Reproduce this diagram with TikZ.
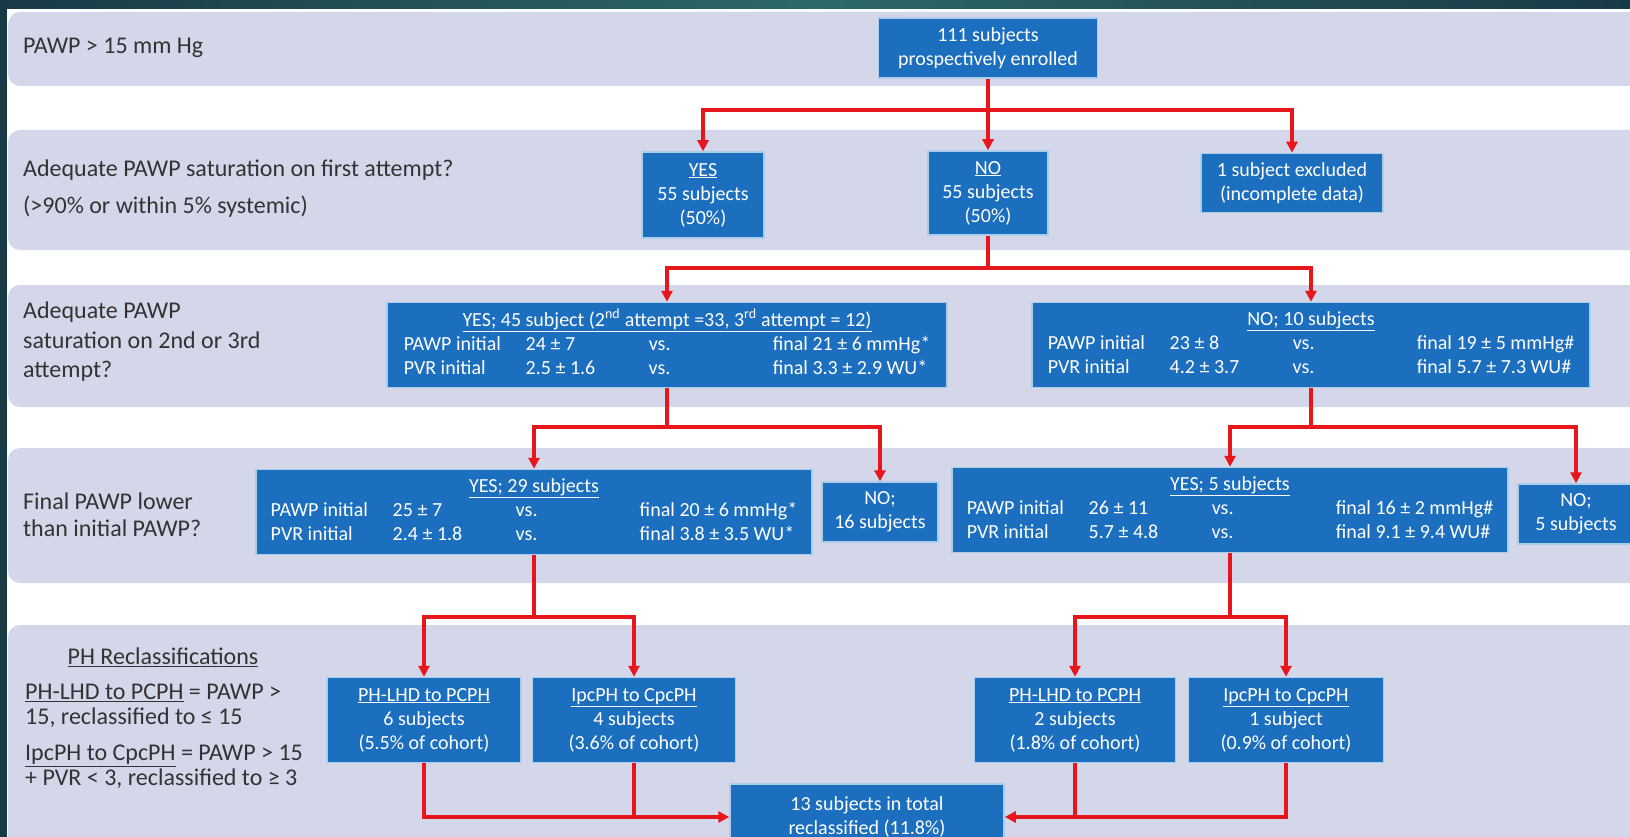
\documentclass[tikz,border=0pt]{standalone}
\usepackage{fontspec}
\setmainfont{Carlito}
\usetikzlibrary{arrows.meta}
\definecolor{bandgray}{RGB}{212,215,234}
\definecolor{boxblue}{RGB}{28,110,190}
\definecolor{boxedge}{RGB}{170,205,235}
\definecolor{flowred}{RGB}{230,22,28}
\definecolor{darkteal}{RGB}{24,58,70}
\definecolor{midteal}{RGB}{46,104,104}
\newcommand{\statrows}[5]{%
\begin{tabular}{@{}p{122pt}@{}p{123pt}@{}p{124pt}@{}l@{}}
\multicolumn{4}{c}{\underline{#1}}\\
PAWP initial & #2 & vs. & final #3\\
PVR initial & #4 & vs. & final #5
\end{tabular}}
\begin{document}
\begin{tikzpicture}[x=1pt,y=-1pt,
  box/.style={fill=boxblue, draw=boxedge, line width=1.5pt, text=white,
    font=\fontsize{20}{24}\selectfont, align=center, inner sep=3pt},
  side/.style={anchor=west, align=left, inner sep=0pt, text=black!80,
    font=\fontsize{24}{25}\selectfont},
  wire/.style={draw=flowred, line width=3.5pt},
  flow/.style={wire, -{Triangle[length=11pt,width=11pt]}}]
\useasboundingbox (0,0) rectangle (1630,837);
\fill[white] (0,0) rectangle (1630,837);
\foreach \t/\b in {12/86,130/250,285/407,448/583,625/880} {\fill[bandgray, rounded corners=12pt] (8,\t) rectangle (1680,\b);}
\shade[left color=darkteal, right color=darkteal, middle color=midteal] (0,0) rectangle (1630,9);
\fill[darkteal] (0,0) rectangle (7,837);
% row labels
\node[side] (lab1) at (23,48) {PAWP > 15 mm Hg};
\node[side] (lab2a) at (23,170) {Adequate PAWP saturation on first attempt?};
\node[side] (lab2b) at (23,207) {(>90\% or within 5\% systemic)};
\node[side, font=\fontsize{24}{29.5}\selectfont] (lab3) at (23,342) {Adequate PAWP\\saturation on 2nd or 3rd\\attempt?};
\node[side, font=\fontsize{24}{26.5}\selectfont] (lab4) at (23,515) {Final PAWP lower\\than initial PAWP?};
\node[side, anchor=center] (lab5) at (163,657) {\underline{PH Reclassifications}};
\node[side] (lab6) at (25,706) {\underline{PH-LHD to PCPH} = PAWP >\\15, reclassified to ≤ 15};
\node[side] (lab7) at (25,767) {\underline{IpcPH to CpcPH} = PAWP > 15\\+ PVR < 3, reclassified to ≥ 3};
% boxes
\node[box, minimum width=219pt, minimum height=60pt] (enrolled) at (988,48) {111 subjects\\prospectively enrolled};
\node[box, minimum width=122pt, minimum height=86pt] (yesA) at (703,195) {\underline{YES}\\55 subjects\\(50\%)};
\node[box, minimum width=120pt, minimum height=84pt] (noA) at (988,193) {\underline{NO}\\55 subjects\\(50\%)};
\node[box, minimum width=182pt, minimum height=59pt] (excluded) at (1292,183) {1 subject excluded\\(incomplete data)};
\node[box, minimum width=560pt, minimum height=85pt] (yesB) at (667,345) {\statrows{YES; 45 subject (2\textsuperscript{nd} attempt =33, 3\textsuperscript{rd} attempt = 12)}{24 ± 7}{21 ± 6 mmHg*}{2.5 ± 1.6}{3.3 ± 2.9 WU*}};
\node[box, minimum width=558pt, minimum height=85pt] (noB) at (1311,345) {\statrows{NO; 10 subjects}{23 ± 8}{19 ± 5 mmHg\#}{4.2 ± 3.7}{5.7 ± 7.3 WU\#}};
\node[box, minimum width=556pt, minimum height=85pt] (yesC) at (534,512) {\statrows{YES; 29 subjects}{25 ± 7}{20 ± 6 mmHg*}{2.4 ± 1.8}{3.8 ± 3.5 WU*}};
\node[box, minimum width=116pt, minimum height=60pt] (noC) at (880,512) {NO;\\16 subjects};
\node[box, minimum width=556pt, minimum height=85pt] (yesD) at (1230,510) {\statrows{YES; 5 subjects}{26 ± 11}{16 ± 2 mmHg\#}{5.7 ± 4.8}{9.1 ± 9.4 WU\#}};
\node[box, minimum width=116pt, minimum height=60pt] (noD) at (1576,514) {NO;\\5 subjects};
\node[box, minimum width=194pt, minimum height=85pt] (lhdL) at (424,720) {\underline{PH-LHD to PCPH}\\6 subjects\\(5.5\% of cohort)};
\node[box, minimum width=203pt, minimum height=85pt] (ipcL) at (634,720) {\underline{IpcPH to CpcPH}\\4 subjects\\(3.6\% of cohort)};
\node[box, minimum width=201pt, minimum height=85pt] (lhdR) at (1075,720) {\underline{PH-LHD to PCPH}\\2 subjects\\(1.8\% of cohort)};
\node[box, minimum width=195pt, minimum height=85pt] (ipcR) at (1286,720) {\underline{IpcPH to CpcPH}\\1 subject\\(0.9\% of cohort)};
\node[box, minimum width=274pt, minimum height=66pt] (total) at (867,817) {13 subjects in total\\reclassified (11.8\%)};
% connectors
\coordinate (s1) at (988,110);
\draw[flow] (enrolled) -- (noA);
\draw[flow] (s1) -| (yesA);
\draw[flow] (s1) -| (excluded);
\coordinate (s2) at (988,268);
\draw[wire] (noA.south) -- (s2);
\draw[flow] (s2) -| (yesB);
\draw[flow] (s2) -| (noB);
\coordinate (s3) at (667,427);
\draw[wire] (yesB.south) -- (s3);
\draw[flow] (s3) -| (yesC);
\draw[flow] (s3) -| (noC);
\coordinate (s4) at (1311,427);
\draw[wire] (noB.south) -- (s4);
\draw[flow] (s4) -| (yesD);
\draw[flow] (s4) -| (noD);
\coordinate (s5) at (534,617);
\draw[wire] (yesC.south) -- (s5);
\draw[flow] (s5) -| (lhdL);
\draw[flow] (s5) -| (ipcL);
\coordinate (s6) at (1230,617);
\draw[wire] (yesD.south) -- (s6);
\draw[flow] (s6) -| (lhdR);
\draw[flow] (s6) -| (ipcR);
\draw[flow] (lhdL) |- (total);
\draw[wire] (ipcL) -- (ipcL |- total);
\draw[flow] (ipcR) |- (total);
\draw[wire] (lhdR) -- (lhdR |- total);
\end{tikzpicture}
\end{document}
